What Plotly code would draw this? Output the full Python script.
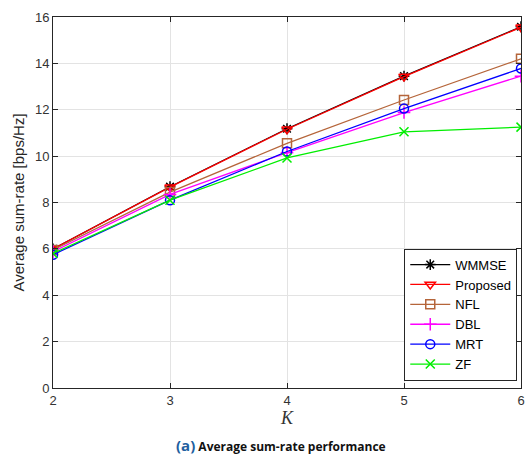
import plotly.graph_objects as go

# Number of users K
k_values = [2, 3, 4, 5, 6]

# Average sum-rate [bps/Hz] per scheme
wmmse = [6.00, 8.68, 11.18, 13.45, 15.58]
proposed = [6.00, 8.66, 11.16, 13.43, 15.56]
nfl = [5.95, 8.45, 10.55, 12.42, 14.20]
dbl = [5.88, 8.35, 10.15, 11.88, 13.45]
mrt = [5.75, 8.10, 10.20, 12.05, 13.78]
zf = [5.80, 8.10, 9.92, 11.05, 11.25]

x_ticks = [2, 3, 4, 5, 6]
y_ticks = [0, 2, 4, 6, 8, 10, 12, 14, 16]

series = [
    ("WMMSE", wmmse, "#000000", "asterisk-open"),
    ("Proposed", proposed, "#ff0000", "triangle-down-open"),
    ("NFL", nfl, "#b5653a", "square-open"),
    ("DBL", dbl, "#ff00ff", "cross-thin-open"),
    ("MRT", mrt, "#0000ff", "circle-open"),
    ("ZF", zf, "#00ee00", "x-thin-open"),
]

fig = go.Figure()
for name, vals, color, symbol in series:
    fig.add_trace(go.Scatter(
        x=k_values, y=vals, name=name, mode="lines+markers",
        line=dict(color=color, width=1.3),
        marker=dict(symbol=symbol, size=9, color=color,
                    line=dict(color=color, width=1.5)),
    ))

axis_common = dict(
    showline=True, linecolor="#262626", linewidth=1, mirror="ticks",
    ticks="inside", ticklen=5, tickcolor="#262626",
    showgrid=True, gridcolor="#e3e3e3", gridwidth=1,
    zeroline=False, automargin=False,
    tickfont=dict(family="Liberation Sans, Arial", size=13, color="#333333"),
)

fig.update_xaxes(
    range=[2, 6], tickvals=x_ticks, ticklabeloverflow="allow",
    title=dict(text="<i>K</i>", font=dict(family="Liberation Serif, Times New Roman", size=18, color="#333333"), standoff=2),
    **axis_common,
)
fig.update_yaxes(
    range=[0, 16], tickvals=y_ticks,
    title=dict(text="Average sum-rate [bps/Hz]", font=dict(family="Liberation Sans, Arial", size=15, color="#262626"), standoff=6),
    **axis_common,
)

fig.update_layout(
    width=525, height=458,
    margin=dict(l=53, r=4, t=17, b=70),
    plot_bgcolor="white", paper_bgcolor="white",
    legend=dict(
        x=0.992, y=0.02, xanchor="right", yanchor="bottom",
        bgcolor="white", bordercolor="#262626", borderwidth=1,
        font=dict(family="Liberation Sans, Arial", size=13, color="#000000"),
        tracegroupgap=0, itemwidth=40,
    ),
    annotations=[dict(
        text="<b><span style='color:#1f5fa0;font-size:15px'>(a)</span> Average sum-rate performance</b>",
        x=0.5, y=-0.153, xref="paper", yref="paper", xanchor="center", yanchor="middle",
        xshift=-6, showarrow=False,
        font=dict(family="Open Sans, Noto Sans", size=12, color="#111111"),
    )],
)

fig.write_html("out.html")
